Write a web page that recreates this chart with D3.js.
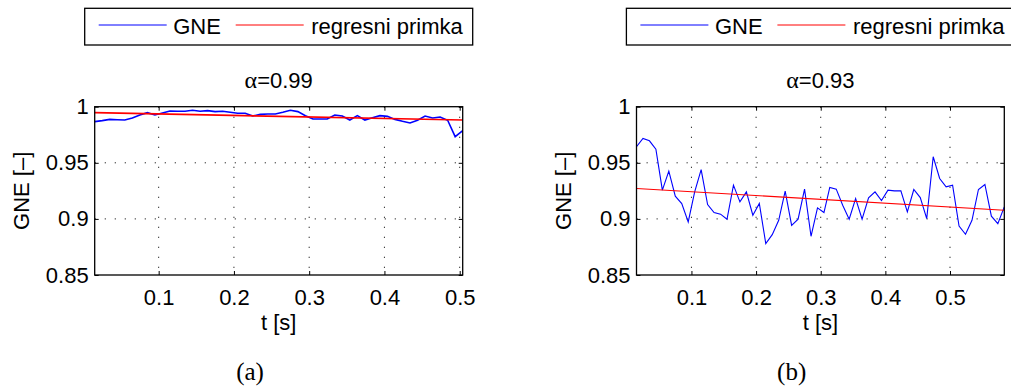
<!DOCTYPE html>
<html lang="en">
<head>
<meta charset="utf-8">
<title>GNE</title>
<script src="https://cdn.jsdelivr.net/npm/d3@7"></script>
<style>
  body { margin: 0; background: #fff; }
</style>
</head>
<body>
<script>
// panel (a), alpha = 0.99
var timeA = [0.015, 0.025, 0.035, 0.045, 0.055, 0.065, 0.075, 0.085, 0.095, 0.105,
             0.115, 0.125, 0.135, 0.145, 0.155, 0.165, 0.175, 0.185, 0.195, 0.205,
             0.215, 0.225, 0.235, 0.245, 0.255, 0.265, 0.275, 0.285, 0.295, 0.305,
             0.314, 0.324, 0.334, 0.344, 0.354, 0.364, 0.374, 0.384, 0.394, 0.404,
             0.414, 0.424, 0.434, 0.444, 0.454, 0.464, 0.474, 0.484, 0.494, 0.504];
var gneA = [0.9867, 0.9876, 0.9887, 0.9884, 0.9881, 0.9900, 0.9926, 0.9947, 0.9926, 0.9944,
            0.9962, 0.9959, 0.9960, 0.9968, 0.9959, 0.9965, 0.9956, 0.9959, 0.9950, 0.9941,
            0.9941, 0.9917, 0.9932, 0.9935, 0.9935, 0.9950, 0.9968, 0.9956, 0.9920, 0.9890,
            0.9890, 0.9890, 0.9926, 0.9917, 0.9881, 0.9920, 0.9881, 0.9902, 0.9920, 0.9914,
            0.9887, 0.9870, 0.9855, 0.9879, 0.9917, 0.9899, 0.9908, 0.9879, 0.9733, 0.9786];
var regA = [0.9947, 0.9881];

// panel (b), alpha = 0.93
var timeB = [0.015, 0.025, 0.035, 0.045, 0.055, 0.065, 0.075, 0.085, 0.095, 0.105,
             0.115, 0.125, 0.135, 0.145, 0.155, 0.165, 0.175, 0.185, 0.195, 0.205,
             0.215, 0.225, 0.235, 0.245, 0.255, 0.265, 0.275, 0.285, 0.295, 0.305,
             0.314, 0.324, 0.334, 0.344, 0.354, 0.364, 0.374, 0.384, 0.394, 0.404,
             0.414, 0.424, 0.434, 0.444, 0.454, 0.464, 0.474, 0.484, 0.494, 0.504,
             0.514, 0.524, 0.534, 0.544, 0.554, 0.564, 0.574, 0.584];
var gneB = [0.9643, 0.9717, 0.9696, 0.9622, 0.9256, 0.9426, 0.9202, 0.9137, 0.8973, 0.9241,
            0.9440, 0.9128, 0.9057, 0.9042, 0.8997, 0.9301, 0.9152, 0.9241, 0.9033, 0.9137,
            0.8780, 0.8860, 0.8988, 0.9247, 0.8943, 0.8997, 0.9265, 0.8845, 0.9098, 0.9057,
            0.9280, 0.9265, 0.9122, 0.8997, 0.9182, 0.8997, 0.9188, 0.9241, 0.9164, 0.9256,
            0.9250, 0.9250, 0.9063, 0.9262, 0.9190, 0.9003, 0.9554, 0.9360, 0.9286, 0.9301,
            0.8937, 0.8863, 0.8988, 0.9262, 0.9307, 0.9024, 0.8958, 0.9107];
var regB = [0.9271, 0.9077];

var xTicks = [0.1, 0.2, 0.3, 0.4, 0.5];
var yTicks = [0.85, 0.9, 0.95, 1];
var yTickLabels = ["0.85", "0.9", "0.95", "1"];
var legendLabels = ["GNE", "regresni primka"];

var SANS = "Liberation Sans, Arial, sans-serif";
var SERIF = "Liberation Serif, Times New Roman, serif";

var W = 1011, H = 390;
var svg = d3.select("body").append("svg")
    .attr("width", W)
    .attr("height", H)
    .attr("font-family", SANS);

function drawPanel(left, right, time, gne, reg, title, caption, lw) {
  var top = 106.7, bottom = 275;
  var x = d3.scaleLinear().domain([time[0], time[time.length - 1]]).range([left, right]);
  var y = d3.scaleLinear().domain([0.85, 1]).range([bottom, top]);
  var cx = (left + right) / 2;
  var g = svg.append("g");

  // dotted grid
  g.selectAll("line.gx").data(xTicks).enter().append("line")
    .attr("x1", function(d) { return x(d); }).attr("x2", function(d) { return x(d); })
    .attr("y1", top).attr("y2", bottom)
    .attr("stroke", "#333").attr("stroke-width", 1).attr("stroke-dasharray", "1.3,8.7");
  g.selectAll("line.gy").data(yTicks.slice(1, 3)).enter().append("line")
    .attr("y1", function(d) { return y(d); }).attr("y2", function(d) { return y(d); })
    .attr("x1", left).attr("x2", right)
    .attr("stroke", "#333").attr("stroke-width", 1).attr("stroke-dasharray", "1.3,8.7");

  // axes with inward ticks
  var ax = g.append("g").attr("transform", "translate(0," + bottom + ")")
    .call(d3.axisBottom(x).tickValues(xTicks).tickSizeInner(-4).tickSizeOuter(0).tickPadding(14)
      .tickFormat(d3.format(".1f")));
  var ay = g.append("g").attr("transform", "translate(" + left + ",0)")
    .call(d3.axisLeft(y).tickValues(yTicks).tickSizeInner(-4).tickSizeOuter(0).tickPadding(6)
      .tickFormat(function(d, i) { return yTickLabels[i]; }));
  var at = g.append("g").attr("transform", "translate(0," + top + ")")
    .call(d3.axisTop(x).tickValues(xTicks).tickSizeInner(-4).tickSizeOuter(0).tickFormat(""));
  var ar = g.append("g").attr("transform", "translate(" + right + ",0)")
    .call(d3.axisRight(y).tickValues(yTicks).tickSizeInner(-4).tickSizeOuter(0).tickFormat(""));
  [ax, ay, at, ar].forEach(function(a) {
    a.select(".domain").remove();
    a.selectAll("line").attr("stroke", "#000");
    a.selectAll("text").attr("font-size", 22).attr("font-family", SANS).attr("fill", "#000");
  });

  // lines
  var line = d3.line()
    .x(function(d, i) { return x(time[i]); })
    .y(function(d) { return y(d); });
  g.append("path").attr("d", line(gne))
    .attr("fill", "none").attr("stroke", "#0000ff").attr("stroke-width", lw);
  g.append("path")
    .attr("d", d3.line()([[x(time[0]), y(reg[0])], [x(time[time.length - 1]), y(reg[1])]]))
    .attr("fill", "none").attr("stroke", "#ff0000").attr("stroke-width", lw);

  // frame
  g.append("rect").attr("x", left).attr("y", top)
    .attr("width", right - left).attr("height", bottom - top)
    .attr("fill", "none").attr("stroke", "#000").attr("stroke-width", 1.3);

  // labels
  g.append("text").attr("x", cx).attr("y", 330).attr("text-anchor", "middle")
    .attr("font-size", 22).text("t [s]");
  g.append("text").attr("transform", "translate(" + (left - 65.3) + "," + ((top + bottom) / 2) + ") rotate(-90)")
    .attr("text-anchor", "middle").attr("font-size", 22).text("GNE [\u2013]");
  var t = g.append("text").attr("x", cx).attr("y", 88).attr("text-anchor", "middle").attr("font-size", 22);
  t.append("tspan").attr("font-family", SERIF).attr("font-size", 24).text("\u03b1");
  t.append("tspan").text("=" + title);

  // legend
  var lx = cx - 194, lyTop = 8.3;
  g.append("rect").attr("x", lx).attr("y", lyTop).attr("width", 388).attr("height", 36.7)
    .attr("fill", "#fff").attr("stroke", "#000").attr("stroke-width", 1.3);
  var items = [{c: "#0000ff", x0: 14, x1: 82, tx: 88.5},
               {c: "#ff0000", x0: 151, x1: 219, tx: 226.5}];
  items.forEach(function(it, i) {
    g.append("line").attr("x1", lx + it.x0).attr("x2", lx + it.x1)
      .attr("y1", 25).attr("y2", 25).attr("stroke", it.c).attr("stroke-width", 1);
    g.append("text").attr("x", lx + it.tx).attr("y", 33.5).attr("font-size", 22).text(legendLabels[i]);
  });

  // caption
  g.append("text").attr("x", cx - 28.7).attr("y", 380).attr("text-anchor", "middle")
    .attr("font-family", SERIF).attr("font-size", 25).text(caption);
}

drawPanel(94.7, 462.7, timeA, gneA, regA, "0.99", "(a)", 1.6);
drawPanel(636.5, 1004.3, timeB, gneB, regB, "0.93", "(b)", 1.1);
</script>
</body>
</html>
